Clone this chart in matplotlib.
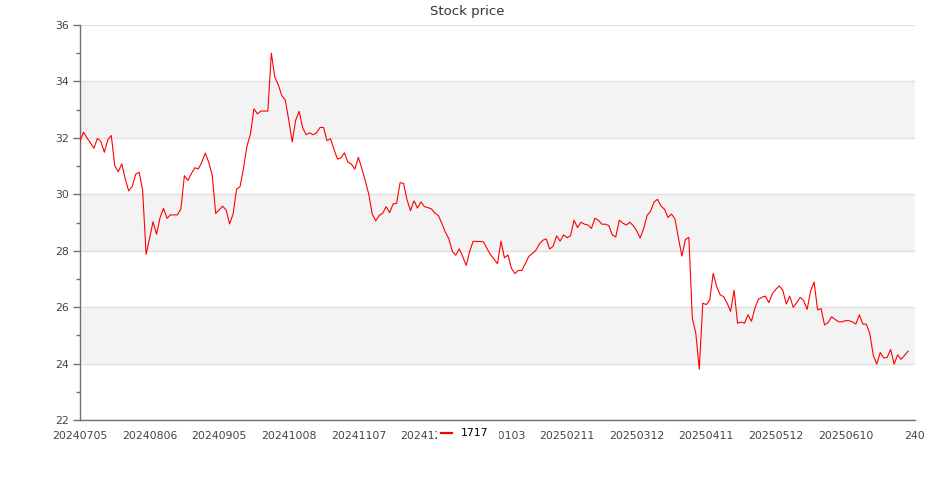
import matplotlib.pyplot as plt
import numpy as np
from matplotlib.lines import Line2D
from matplotlib.patches import Rectangle

# Daily close
prices = [
    31.87, 32.20, 32.00, 31.82, 31.63, 31.98, 31.87, 31.49, 31.94, 32.08,
    31.01, 30.80, 31.08, 30.54, 30.12, 30.28, 30.71, 30.78, 30.14, 27.87,
    28.44, 29.03, 28.58, 29.17, 29.50, 29.15, 29.27, 29.27, 29.27, 29.48,
    30.66, 30.49, 30.73, 30.94, 30.90, 31.13, 31.46, 31.13, 30.68, 29.32,
    29.45, 29.58, 29.44, 28.95, 29.30, 30.18, 30.27, 30.93, 31.71, 32.14,
    33.03, 32.85, 32.95, 32.95, 32.95, 35.00, 34.15, 33.88, 33.50, 33.34,
    32.63, 31.85, 32.63, 32.94, 32.35, 32.11, 32.18, 32.11, 32.18, 32.37,
    32.37, 31.90, 31.97, 31.59, 31.25, 31.29, 31.47, 31.14, 31.07, 30.89,
    31.31, 30.91, 30.48, 30.00, 29.30, 29.06, 29.25, 29.33, 29.56, 29.35,
    29.66, 29.68, 30.41, 30.39, 29.80, 29.42, 29.77, 29.51, 29.73, 29.56,
    29.53, 29.48, 29.33, 29.25, 28.97, 28.66, 28.43, 27.98, 27.84, 28.07,
    27.79, 27.48, 27.98, 28.33, 28.33, 28.33, 28.31, 28.07, 27.86, 27.70,
    27.54, 28.34, 27.75, 27.85, 27.38, 27.19, 27.30, 27.30, 27.54, 27.80,
    27.90, 28.01, 28.23, 28.37, 28.42, 28.06, 28.16, 28.53, 28.34, 28.56,
    28.46, 28.53, 29.08, 28.82, 29.01, 28.94, 28.91, 28.79, 29.15, 29.08,
    28.94, 28.94, 28.89, 28.56, 28.49, 29.08, 28.98, 28.91, 29.01, 28.89,
    28.71, 28.45, 28.78, 29.25, 29.40, 29.73, 29.82, 29.58, 29.47, 29.18,
    29.30, 29.13, 28.45, 27.81, 28.40, 28.47, 25.61, 25.07, 23.80, 26.14,
    26.09, 26.25, 27.20, 26.72, 26.44, 26.37, 26.14, 25.85, 26.60, 25.43,
    25.47, 25.43, 25.73, 25.50, 25.97, 26.28, 26.35, 26.39, 26.16, 26.48,
    26.63, 26.75, 26.60, 26.11, 26.39, 25.99, 26.16, 26.35, 26.23, 25.92,
    26.58, 26.89, 25.90, 25.95, 25.37, 25.45, 25.66, 25.57, 25.48, 25.48,
    25.52, 25.52, 25.48, 25.40, 25.73, 25.40, 25.40, 25.07, 24.30, 23.98,
    24.39, 24.20, 24.22, 24.50, 23.98, 24.31, 24.15, 24.29, 24.44,
]

# category labels shown on the x axis (one every 20 trading days)
tick_labels = [
    "20240705", "20240806", "20240905", "20241008", "20241107", "20241205",
    "20250103", "20250211", "20250312", "20250411", "20250512", "20250610",
    "240",
]
label_step = 20
series_name = "1717"

fig = plt.figure(figsize=(9.35, 5.0), dpi=100)
ax = fig.add_axes([80 / 935, 80 / 500, 835 / 935, 395 / 500])

x = np.arange(len(prices))
ax.plot(x, prices, color="red", lw=0.8, zorder=3)

n_cat = (len(tick_labels) - 1) * label_step
ax.set_xlim(0, n_cat)
ax.set_ylim(22, 36)

# alternating split areas
for lo in range(22, 36, 2):
    if (lo // 2) % 2 == 0:
        ax.axhspan(lo, lo + 2, color="#f3f3f3", lw=0, zorder=0)
ax.set_yticks(range(22, 37, 2))
ax.set_yticks(range(23, 36, 2), minor=True)
ax.grid(axis="y", which="major", color="#e0e0e0", lw=1, zorder=1)
ax.set_axisbelow(True)

ax.set_xticks(np.arange(len(tick_labels)) * label_step)
ax.set_xticklabels(tick_labels)

for side in ("top", "right"):
    ax.spines[side].set_visible(False)
for side in ("left", "bottom"):
    ax.spines[side].set_color("#6e7079")
    ax.spines[side].set_linewidth(1)

ax.tick_params(axis="x", length=0, pad=8, labelsize=7.8, labelcolor="#444444")
ax.tick_params(axis="y", which="major", length=5, width=1, color="#6e7079",
               pad=3, labelsize=7.8, labelcolor="#444444")
ax.tick_params(axis="y", which="minor", length=3, width=1, color="#6e7079")

fig.text(0.5, 1 - 12 / 500, "Stock price", ha="center", va="center",
         fontsize=9.5, color="#333333")

# legend sits on a white box that hides the tick labels under it
fig.patches.append(Rectangle((437 / 935, 1 - 443 / 500), 62 / 935, 18 / 500,
                             transform=fig.transFigure, facecolor="white",
                             edgecolor="none", zorder=2))
handle = Line2D([], [], color="red", lw=1.6)
leg = fig.legend([handle], [series_name], loc="center left",
                 bbox_to_anchor=(441 / 935, 1 - 433.5 / 500),
                 frameon=False, fontsize=7.8, handlelength=1.0,
                 handletextpad=0.8, borderpad=0, borderaxespad=0)
leg.set_zorder(3)

fig.savefig("out.png", dpi=100, facecolor="white")
